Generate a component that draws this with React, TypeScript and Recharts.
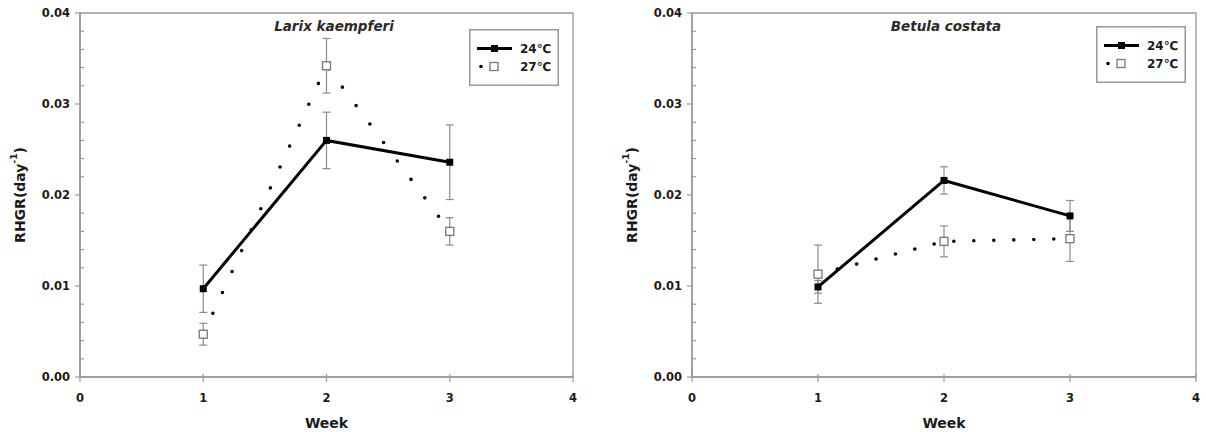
import React from "react";
import { LineChart, Line, XAxis, YAxis, ErrorBar, ReferenceArea } from "recharts";

// weeks after treatment
const weeks = [1, 2, 3];
const xTicks = [0, 1, 2, 3, 4];
const yTicks = [
  0, 0.002, 0.004, 0.006, 0.008, 0.01, 0.012, 0.014, 0.016, 0.018, 0.02,
  0.022, 0.024, 0.026, 0.028, 0.03, 0.032, 0.034, 0.036, 0.038, 0.04,
];
const majorYTicks = [0, 0.01, 0.02, 0.03, 0.04];

// Larix kaempferi RHGR
const larix24 = [0.0097, 0.026, 0.0236];
const larix24Err = [0.0026, 0.0031, 0.0041];
const larix27 = [0.0047, 0.0342, 0.016];
const larix27Err = [0.0012, 0.003, 0.0015];

// Betula costata RHGR
const betula24 = [0.0099, 0.0216, 0.0177];
const betula24Err = [0.0007, 0.0015, 0.0017];
const betula27 = [0.0113, 0.0149, 0.0152];
const betula27Err = [0.0032, 0.0017, 0.0025];

const FONT = "'DejaVu Sans', Arial, sans-serif";
const TEXT = "#1a1a1a";
const FRAME = "#999";

const buildRows = (a: number[], ae: number[], b: number[], be: number[]) =>
  weeks.map((w, i) => ({ week: w, t24: a[i], e24: ae[i], t27: b[i], e27: be[i] }));

const YTick = (props: any) => {
  const { x, y, payload } = props;
  const ax = x + 10;
  const major = majorYTicks.some((m) => Math.abs(m - payload.value) < 1e-9);
  return (
    <g>
      {major ? (
        <line x1={ax - 5} x2={ax} y1={y} y2={y} stroke={FRAME} strokeWidth={1.2} />
      ) : (
        <line x1={ax} x2={ax + 4} y1={y} y2={y} stroke={FRAME} strokeWidth={1.2} />
      )}
      {major && (
        <text
          x={x}
          y={y}
          textAnchor="end"
          dominantBaseline="central"
          fontFamily={FONT}
          fontWeight="bold"
          fontSize={11.5}
          fill={TEXT}
        >
          {payload.value.toFixed(2)}
        </text>
      )}
    </g>
  );
};

const XTick = (props: any) => {
  const { x, y, payload } = props;
  const ay = y - 17;
  return (
    <g>
      <line x1={x} x2={x} y1={ay - 3} y2={ay + 5} stroke={FRAME} strokeWidth={1.2} />
      <text
        x={x}
        y={ay + 21}
        textAnchor="middle"
        dominantBaseline="central"
        fontFamily={FONT}
        fontWeight="bold"
        fontSize={11.5}
        fill={TEXT}
      >
        {payload.value}
      </text>
    </g>
  );
};

const YLabel = (props: any) => {
  const vb = props.viewBox || {};
  const cx = vb.x + vb.width - 60;
  const cy = vb.y + vb.height / 2;
  return (
    <text
      x={cx}
      y={cy}
      transform={`rotate(-90 ${cx} ${cy})`}
      textAnchor="middle"
      dominantBaseline="central"
      fontFamily={FONT}
      fontWeight="bold"
      fontSize={14}
      fill={TEXT}
    >
      RHGR(day
      <tspan fontSize={9} dy={-6}>
        -1
      </tspan>
      <tspan dy={6}>)</tspan>
    </text>
  );
};

const XLabel = (props: any) => {
  const vb = props.viewBox || {};
  return (
    <text
      x={vb.x + vb.width / 2}
      y={vb.y + 51}
      textAnchor="middle"
      fontFamily={FONT}
      fontWeight="bold"
      fontSize={14}
      fill={TEXT}
    >
      Week
    </text>
  );
};

const filledSquare = (p: any) => (
  <rect key={`f${p.index}`} x={p.cx - 3.5} y={p.cy - 3.5} width={7} height={7} fill="#000" />
);

const openSquare = (p: any) => (
  <rect
    key={`o${p.index}`}
    x={p.cx - 4}
    y={p.cy - 4}
    width={8}
    height={8}
    fill="#fff"
    stroke="#777"
    strokeWidth={1.3}
  />
);

const LegendBox = ({ left, top }: { left: number; top: number }) => (
  <svg
    width={90}
    height={57}
    style={{ position: "absolute", left, top, overflow: "visible" }}
  >
    <rect x={0.75} y={0.75} width={88.5} height={55.5} fill="#fff" stroke={FRAME} strokeWidth={1.5} />
    <line x1={8} x2={43} y1={19.5} y2={19.5} stroke="#000" strokeWidth={3} />
    <rect x={22} y={16} width={7} height={7} fill="#000" />
    <text x={51} y={19.5} dominantBaseline="central" fontFamily={FONT} fontWeight="bold" fontSize={12} fill={TEXT}>
      24℃
    </text>
    <circle cx={12} cy={37.5} r={1.8} fill="#000" />
    <rect x={21} y={33.5} width={8} height={8} fill="#fff" stroke="#777" strokeWidth={1.3} />
    <text x={51} y={37.5} dominantBaseline="central" fontFamily={FONT} fontWeight="bold" fontSize={12} fill={TEXT}>
      27℃
    </text>
  </svg>
);

type PanelProps = {
  left: number;
  title: string;
  titleX: number;
  rows: any[];
  yAxisWidth: number;
  marginRight: number;
  legendLeft: number;
  legendTop: number;
  dotGap: number;
};

const Panel = (p: PanelProps) => (
  <div style={{ position: "absolute", left: p.left, top: 0, width: 603, height: 432 }}>
    <LineChart
      width={603}
      height={432}
      data={p.rows}
      margin={{ top: 13, right: p.marginRight, bottom: 0, left: 0 }}
    >
      <ReferenceArea x1={0} x2={4} y1={0} y2={0.04} fill="none" stroke={FRAME} strokeWidth={1.3} />
      <XAxis
        dataKey="week"
        type="number"
        domain={[0, 4]}
        ticks={xTicks}
        interval={0}
        height={55}
        tickLine={false}
        tickSize={0}
        tickMargin={17}
        axisLine={{ stroke: FRAME, strokeWidth: 1.5 }}
        tick={<XTick />}
        label={(lp: any) => <XLabel {...lp} />}
      />
      <YAxis
        type="number"
        domain={[0, 0.04]}
        ticks={yTicks}
        interval={0}
        width={p.yAxisWidth}
        tickLine={false}
        tickSize={0}
        tickMargin={10}
        axisLine={{ stroke: FRAME, strokeWidth: 1.5 }}
        tick={<YTick />}
        label={(lp: any) => <YLabel {...lp} />}
      />
      <Line
        dataKey="t27"
        type="linear"
        stroke="#000"
        strokeWidth={3.6}
        strokeDasharray={`0 ${p.dotGap}`}
        strokeLinecap="round"
        dot={openSquare}
        activeDot={false}
        isAnimationActive={false}
      >
        <ErrorBar dataKey="e27" direction="y" width={4} stroke="#8c8c8c" strokeWidth={1.2} />
      </Line>
      <Line
        dataKey="t24"
        type="linear"
        stroke="#000"
        strokeWidth={3}
        dot={filledSquare}
        activeDot={false}
        isAnimationActive={false}
      >
        <ErrorBar dataKey="e24" direction="y" width={4} stroke="#8c8c8c" strokeWidth={1.2} />
      </Line>
    </LineChart>
    <div
      style={{
        position: "absolute",
        left: p.titleX - 100,
        top: 19,
        width: 200,
        textAlign: "center",
        fontFamily: FONT,
        fontWeight: "bold",
        fontStyle: "italic",
        fontSize: 13.5,
        lineHeight: "15px",
        color: "#2a2a2a",
      }}
    >
      {p.title}
    </div>
    <LegendBox left={p.legendLeft} top={p.legendTop} />
  </div>
);

export default function App() {
  return (
    <div
      style={{
        position: "absolute",
        left: 0,
        top: 0,
        width: 1206,
        height: 432,
        background: "#fff",
        overflow: "hidden",
      }}
    >
      <Panel
        left={0}
        title="Larix kaempferi"
        titleX={334}
        rows={buildRows(larix24, larix24Err, larix27, larix27Err)}
        yAxisWidth={80}
        marginRight={30}
        legendLeft={469}
        legendTop={29}
        dotGap={23}
      />
      <Panel
        left={603}
        title="Betula costata"
        titleX={343}
        rows={buildRows(betula24, betula24Err, betula27, betula27Err)}
        yAxisWidth={89}
        marginRight={10}
        legendLeft={493}
        legendTop={26}
        dotGap={20}
      />
    </div>
  );
}
